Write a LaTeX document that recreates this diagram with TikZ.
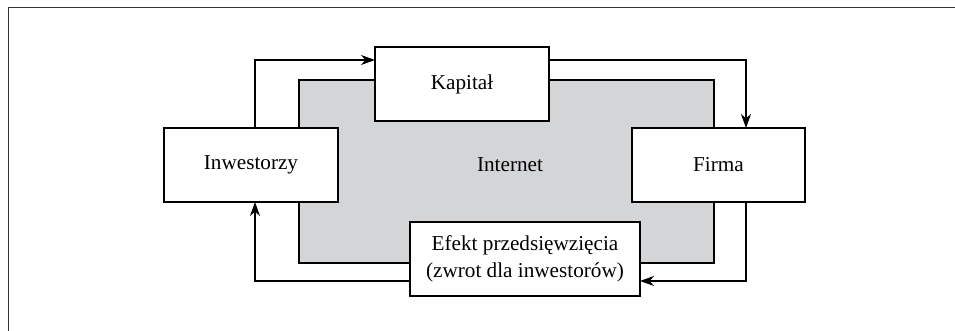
\documentclass[tikz,border=0pt]{standalone}
\usepackage{fontspec}
\setmainfont{Liberation Serif}
\usepackage{tikz}
\usetikzlibrary{arrows.meta, positioning}

\definecolor{netgrey}{HTML}{D4D5D7}

\tikzset{
  box/.style={draw, fill=white, line width=0.6pt, inner sep=0pt, outer sep=0pt,
              minimum width=87pt, minimum height=37pt, align=center,
              font=\fontsize{10.6}{13.5}\selectfont},
  netbox/.style={draw, fill=netgrey, line width=0.6pt, inner sep=0pt, outer sep=0pt,
              minimum width=207.5pt, minimum height=91.5pt},
  flow/.style={line width=0.6pt, -{Stealth[length=7pt, width=5pt, inset=2.2pt]}}
}

\begin{document}
\begin{tikzpicture}[x=0.5pt, y=-0.5pt]
        \useasboundingbox (0,0) rectangle (955,331);
        % Frame
        \draw[line width=0.5pt, black!80] (8,331) -- (8,8) -- (955,8);

        % Internet
        \node[netbox] (internet) at (506.5,171.5) {};
        \node[font=\fontsize{10.6}{13.5}\selectfont] (inettext) at (510,165) {Internet};

        % Boxes
        \node[box] (inw) at (251,165) {Inwestorzy};
        \node[box] (kap) at (462,84) {Kapitał};
        \node[box, minimum width=86.5pt] (firma) at (718.5,165) {Firma};
        \node[box, minimum width=115pt] (efekt) at (525,259) {Efekt przedsięwzięcia\\(zwrot dla inwestorów)};

        % Flow
        \coordinate (topl) at (255,60);
        \coordinate (topr) at (746,60);
        \coordinate (botr) at (746,281);
        \coordinate (botl) at (255,281);
        \draw[flow] (inw.north -| topl) |- (kap.west |- topl);
        \draw[flow] (kap.east |- topr) -| (firma.north -| topr);
        \draw[flow] (firma.south -| botr) |- (efekt.east |- botr);
        \draw[flow] (efekt.west |- botl) -| (inw.south -| botl);
    \end{tikzpicture}
\end{document}
